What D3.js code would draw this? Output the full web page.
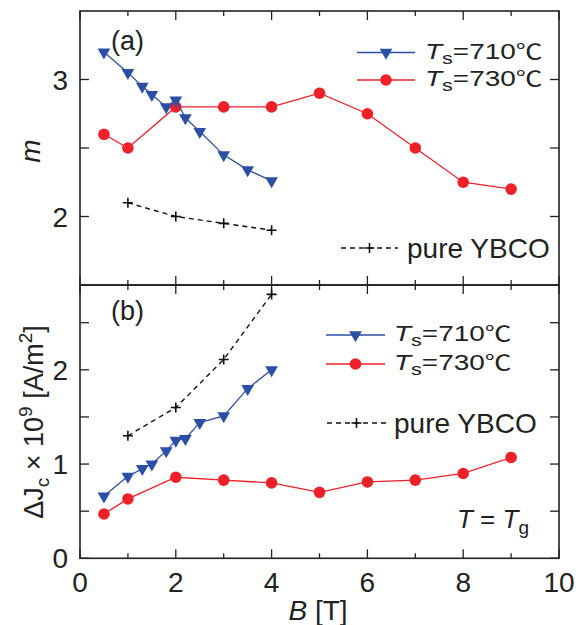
<!DOCTYPE html>
<html><head><meta charset="utf-8">
<script src="https://cdn.jsdelivr.net/npm/d3@7"></script>
<style>
body{margin:0;background:#fff;}
svg{display:block;font-family:"Liberation Sans",Arial,sans-serif;}
</style></head>
<body>
<svg id="c" width="576" height="625"></svg>
<script>
// ---- data ----
const B710 = [0.5, 1, 1.3, 1.5, 1.8, 2, 2.2, 2.5, 3, 3.5, 4];
const m710 = [3.2, 3.05, 2.95, 2.89, 2.8, 2.85, 2.72, 2.62, 2.45, 2.34, 2.26];
const B730 = [0.5, 1, 2, 3, 4, 5, 6, 7, 8, 9];
const m730 = [2.6, 2.5, 2.8, 2.8, 2.8, 2.9, 2.75, 2.5, 2.25, 2.2];
const Bpure = [1, 2, 3, 4];
const mPure = [2.1, 2.0, 1.95, 1.9];
const dJ710 = [0.66, 0.87, 0.95, 1.0, 1.14, 1.25, 1.27, 1.44, 1.51, 1.8, 2.0];
const dJ730 = [0.47, 0.63, 0.86, 0.83, 0.8, 0.7, 0.81, 0.83, 0.9, 1.07];
const dJpure = [1.3, 1.6, 2.11, 2.8];
const xTicks = [0, 1, 2, 3, 4, 5, 6, 7, 8, 9, 10];
const mTicks = [2, 2.5, 3];
const mLabels = [2, 3];
const jTicks = [0, 0.5, 1, 1.5, 2, 2.5];
const jLabels = [0, 1, 2];

const BLUE = "#2b4fa6", RED = "#ee2028";
const svg = d3.select("#c");
const L = 80, R = 559, T1 = 11, MID = 285, B2 = 558.3;

const x = d3.scaleLinear().domain([0, 10]).range([L, R]);
const yA = d3.scaleLinear().domain([1.5, 3.5]).range([MID, T1]);
const yB = d3.scaleLinear().domain([0, 2.9]).range([B2, MID]);

function frame(y, top, bot, yt, ylab){
  const g = svg.append("g");
  xTicks.forEach(v=>{
    const len = v % 2 === 0 ? 9 : 5;
    g.append("line").attr("x1",x(v)).attr("x2",x(v)).attr("y1",bot).attr("y2",bot-len).attr("stroke","#222").attr("stroke-width",1.3);
    g.append("line").attr("x1",x(v)).attr("x2",x(v)).attr("y1",top).attr("y2",top+len).attr("stroke","#222").attr("stroke-width",1.3);
  });
  yt.forEach(v=>{
    g.append("line").attr("x1",L).attr("x2",L+9).attr("y1",y(v)).attr("y2",y(v)).attr("stroke","#222").attr("stroke-width",1.3);
    g.append("line").attr("x1",R).attr("x2",R-9).attr("y1",y(v)).attr("y2",y(v)).attr("stroke","#222").attr("stroke-width",1.3);
  });
  ylab.forEach(v=>{
    g.append("text").attr("x",L-12).attr("y",y(v)).attr("dy","0.36em").attr("text-anchor","end")
      .attr("font-size",28).attr("fill","#222").text(v);
  });
  g.append("rect").attr("x",L).attr("y",top).attr("width",R-L).attr("height",bot-top)
    .attr("fill","none").attr("stroke","#222").attr("stroke-width",1.6);
}
frame(yA, T1, MID, mTicks, mLabels);
frame(yB, MID, B2, jTicks, jLabels);

xTicks.filter(v=>v%2===0).forEach(v=>{
  svg.append("text").attr("x",x(v)).attr("y",592).attr("text-anchor","middle")
    .attr("font-size",28).attr("fill","#222").text(v);
});

const tri = d3.symbol().type(d3.symbolTriangle).size(70);
function series(xs, ys, y, color, kind, dashed){
  const pts = xs.map((v,i)=>[x(v), y(ys[i])]);
  svg.append("path").attr("d", d3.line()(pts)).attr("fill","none").attr("stroke",color)
    .attr("stroke-width", dashed?1.4:1.3).attr("stroke-dasharray", dashed?"5,4":null);
  pts.forEach(p=>marker(p[0],p[1],color,kind));
}
function marker(px,py,color,kind){
  if(kind==="tri"){
    svg.append("path").attr("d",tri()).attr("transform",`translate(${px},${py}) rotate(180)`).attr("fill",color);
  } else if(kind==="circ"){
    svg.append("circle").attr("cx",px).attr("cy",py).attr("r",5.8).attr("fill",color);
  } else {
    svg.append("path").attr("d",`M${px-5},${py}H${px+5}M${px},${py-5}V${py+5}`).attr("stroke","#111").attr("stroke-width",1.6);
  }
}
series(Bpure, mPure, yA, "#111", "plus", true);
series(B730, m730, yA, RED, "circ");
series(B710, m710, yA, BLUE, "tri");
series(Bpure, dJpure, yB, "#111", "plus", true);
series(B730, dJ730, yB, RED, "circ");
series(B710, dJ710, yB, BLUE, "tri");

function tsLegend(x0, x1, xt, yy, color, kind, val){
  svg.append("line").attr("x1",x0).attr("x2",x1).attr("y1",yy).attr("y2",yy).attr("stroke",color).attr("stroke-width",1.3);
  marker((x0+x1)/2, yy, color, kind);
  const t = svg.append("text").attr("transform",`translate(${xt},${yy+6}) scale(1.27,1)`)
    .attr("font-size",22).attr("fill","#222");
  t.append("tspan").attr("font-style","italic").text("T");
  t.append("tspan").attr("font-size",17).attr("dy",5).text("s");
  t.append("tspan").attr("dy",-5).text("=" + val);
  t.append("tspan").attr("font-family","Noto Sans CJK SC").attr("font-size",21).text("\u2103");
}
function pureLegend(x0, x1, xt, yy){
  svg.append("line").attr("x1",x0).attr("x2",x1).attr("y1",yy).attr("y2",yy).attr("stroke","#111").attr("stroke-width",1.4).attr("stroke-dasharray","5,4");
  marker((x0+x1)/2, yy, "#111", "plus");
  svg.append("text").attr("x",xt).attr("y",yy+10).attr("font-size",28).attr("fill","#222").text("pure YBCO");
}
tsLegend(357, 415, 425, 52.5, BLUE, "tri", "710");
tsLegend(357, 415, 425, 80, RED, "circ", "730");
pureLegend(341, 398, 407, 248);
tsLegend(326, 385, 394, 335, BLUE, "tri", "710");
tsLegend(326, 385, 394, 364, RED, "circ", "730");
pureLegend(327, 386, 394, 423);

svg.append("text").attr("x",111).attr("y",50).attr("font-size",27).attr("fill","#222").text("(a)");
svg.append("text").attr("x",111).attr("y",320).attr("font-size",27).attr("fill","#222").text("(b)");
const tg = svg.append("text").attr("x",457).attr("y",528).attr("font-size",26).attr("fill","#222");
tg.append("tspan").attr("font-style","italic").text("T");
tg.append("tspan").text(" = ");
tg.append("tspan").attr("font-style","italic").text("T");
tg.append("tspan").attr("font-size",19).attr("dy",6).text("g");

const xt = svg.append("text").attr("x",318).attr("y",620).attr("text-anchor","middle").attr("font-size",28).attr("fill","#222");
xt.append("tspan").attr("font-style","italic").text("B");
xt.append("tspan").text(" [T]");
svg.append("text").attr("transform","translate(40,151) rotate(-90)").attr("text-anchor","middle")
  .attr("font-size",28).attr("font-style","italic").attr("fill","#222").text("m");
const yl = svg.append("text").attr("transform","translate(43,422) rotate(-90)").attr("text-anchor","middle")
  .attr("font-size",27).attr("fill","#222");
yl.append("tspan").text("\u0394J");
yl.append("tspan").attr("font-size",19).attr("dy",6).text("c");
yl.append("tspan").attr("dy",-6).text(" \u00d7 10");
yl.append("tspan").attr("font-size",19).attr("dy",-11).text("9");
yl.append("tspan").attr("dy",11).text(" [A/m");
yl.append("tspan").attr("font-size",19).attr("dy",-11).text("2");
yl.append("tspan").attr("dy",11).text("]");
</script>
</body></html>
